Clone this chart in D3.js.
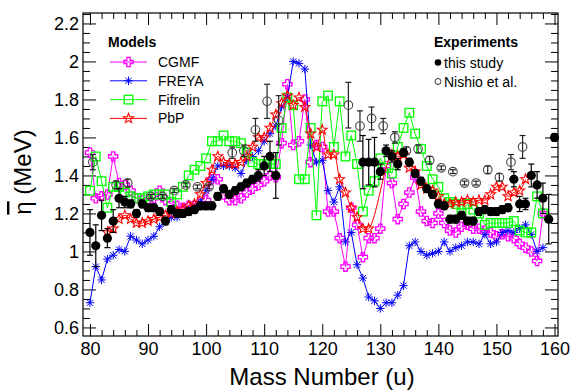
<!DOCTYPE html>
<html><head><meta charset="utf-8">
<script src="https://cdn.jsdelivr.net/npm/d3@7"></script>
<style>
html,body{margin:0;padding:0;background:#fff;}
text{font-family:"Liberation Sans",Arial,Helvetica,sans-serif;}
</style></head>
<body><svg id="c" width="570" height="390"></svg>
<script>
// ---------- data ----------
const xTickLabels = [80, 90, 100, 110, 120, 130, 140, 150, 160];
const yTickLabels = [0.6, 0.8, 1, 1.2, 1.4, 1.6, 1.8, 2, 2.2];

const cgmfMass = [80,81,82,83,84,85,86,87,88,89,90,91,92,93,94,95,96,97,98,99,100,101,102,103,104,105,106,107,108,109,110,111,112,113,114,115,116,117,118,119,120,121,122,123,124,125,126,127,128,129,130,131,132,133,134,135,136,137,138,139,140,141,142,143,144,145,146,147,148,149,150,151,152,153,154,155,156,157,158];
const cgmfValues = [1.52,1.28,1.29,1.30,1.50,1.36,1.35,1.32,1.28,1.27,1.27,1.28,1.32,1.27,1.25,1.24,1.23,1.24,1.24,1.25,1.27,1.38,1.38,1.30,1.27,1.27,1.28,1.31,1.33,1.35,1.37,1.40,1.39,1.57,1.88,1.56,1.58,1.80,1.47,1.56,1.55,1.21,1.21,1.07,0.92,1.23,1.14,0.97,1.07,1.07,1.12,1.45,1.36,1.17,1.25,1.31,1.39,1.21,1.16,1.15,1.20,1.15,1.11,1.10,1.13,1.14,1.12,1.12,1.11,1.10,1.08,1.09,1.08,1.07,1.04,1.02,1.00,0.95,1.20];

const freyaMass = [80,81,82,83,84,85,86,87,88,89,90,91,92,93,94,95,96,97,98,99,100,101,102,103,104,105,106,107,108,109,110,111,112,113,114,115,116,117,118,119,120,121,122,123,124,125,126,127,128,129,130,131,132,133,134,135,136,137,138,139,140,141,142,143,144,145,146,147,148,149,150,151,152,153,154,155,156,157,158];
const freyaValues = [0.73,0.92,0.85,0.96,0.98,1.01,1.00,1.08,1.06,1.04,1.06,1.08,1.13,1.16,1.18,1.18,1.20,1.22,1.23,1.26,1.32,1.38,1.45,1.45,1.45,1.44,1.41,1.48,1.50,1.53,1.58,1.62,1.66,1.76,1.81,2.00,1.99,1.96,1.56,1.47,1.48,1.32,1.26,1.34,1.05,1.10,0.93,0.86,0.76,0.74,0.70,0.73,0.73,0.77,0.82,1.03,1.05,1.00,0.98,0.99,1.00,1.05,1.00,1.02,1.03,1.05,1.05,1.04,1.09,1.04,1.05,1.10,1.11,1.10,1.12,1.14,1.09,1.00,1.02];

const fifrelinMass = [80,81,82,83,84,85,86,87,88,89,90,91,92,93,94,95,96,97,98,99,100,101,102,103,104,105,106,107,108,109,110,111,112,113,114,115,116,117,118,119,120,121,122,123,124,125,126,127,128,129,130,131,132,133,134,135,136,137,138,139,140,141,142,143,144,145,146,147,148,149,150,151,152,153,154,155,156,157,158];
const fifrelinValues = [1.32,1.50,1.37,1.23,1.34,1.34,1.31,1.29,1.28,1.28,1.29,1.30,1.30,1.30,1.26,1.30,1.34,1.40,1.43,1.45,1.49,1.58,1.58,1.61,1.58,1.58,1.57,1.52,1.47,1.46,1.46,1.46,1.46,1.65,1.81,1.77,1.38,1.38,1.65,1.19,1.79,1.82,1.55,1.79,1.50,1.61,1.46,1.21,1.32,1.37,1.49,1.44,1.41,1.55,1.65,1.73,1.62,1.54,1.45,1.38,1.34,1.28,1.26,1.25,1.20,1.25,1.22,1.20,1.14,1.15,1.15,1.15,1.15,1.16,1.11,1.10,1.10,1.29,1.20];

const pbpMass = [83,84,85,86,87,88,89,90,91,92,93,94,95,96,97,98,99,100,101,102,103,104,105,106,107,108,109,110,111,112,113,114,115,116,117,118,119,120,121,122,123,124,125,126,127,128,132,133,134,135,136,137,138,139,140,141,142,143,144,145,146,147,148,149,150,151,152,153,154,155];
const pbpValues = [1.10,1.12,1.17,1.19,1.17,1.15,1.15,1.16,1.17,1.18,1.19,1.20,1.21,1.22,1.24,1.25,1.30,1.36,1.43,1.50,1.47,1.46,1.46,1.47,1.50,1.55,1.60,1.60,1.65,1.72,1.78,1.82,1.77,1.81,1.76,1.62,1.55,1.64,1.51,1.51,1.38,1.31,1.23,1.18,1.12,1.12,1.51,1.50,1.51,1.44,1.42,1.35,1.33,1.32,1.29,1.25,1.25,1.26,1.26,1.27,1.26,1.27,1.27,1.30,1.34,1.34,1.29,1.31,1.32,1.38];

const studyMass = [80,81,82,83,84,85,86,87,88,89,90,91,92,93,94,95,96,97,98,99,100,101,102,103,104,105,106,107,108,109,110,111,112,127,128,129,130,131,132,133,134,135,136,137,138,139,140,141,142,143,144,145,146,147,148,149,150,151,152,153,154,155,156,157,158,159,160];
const studyValues = [1.10,1.03,1.19,1.07,1.16,1.28,1.26,1.25,1.20,1.25,1.23,1.23,1.21,1.16,1.22,1.20,1.20,1.21,1.22,1.24,1.24,1.24,1.29,1.33,1.30,1.32,1.34,1.36,1.38,1.40,1.45,1.50,1.40,1.47,1.47,1.47,1.42,1.53,1.50,1.46,1.52,1.47,1.41,1.37,1.33,1.30,1.25,1.24,1.17,1.17,1.19,1.16,1.16,1.21,1.22,1.21,1.21,1.22,1.23,1.38,1.25,1.25,1.40,1.35,1.28,1.17,1.60];
const studyErrors = [0.12,0.11,0.08,0.05,0.06,0.05,0.03,0.02,0.02,0.02,0.02,0.02,0.02,0.02,0.02,0.02,0.02,0.02,0.02,0.02,0.02,0.02,0.02,0.02,0.02,0.02,0.02,0.02,0.02,0.03,0.05,0.08,0.12,0.14,0.12,0.13,0.04,0.03,0.03,0.03,0.02,0.02,0.02,0.02,0.02,0.02,0.02,0.02,0.02,0.02,0.02,0.02,0.02,0.02,0.02,0.02,0.02,0.02,0.02,0.04,0.04,0.03,0.06,0.07,0.08,0.13,0.02];

const nishioMass = [80.5,84.5,86.5,90.5,92.5,94.5,96.5,98.5,100.5,104.5,106.5,108.5,110.5,112.5,124.5,126.5,128.5,130.5,132.5,134.5,136.5,138.5,140.5,142.5,144.5,146.5,148.5,150.5,152.5,154.5];
const nishioValues = [1.47,1.35,1.36,1.29,1.29,1.32,1.35,1.34,1.34,1.52,1.53,1.64,1.79,1.69,1.77,1.66,1.70,1.66,1.60,1.53,1.54,1.48,1.44,1.42,1.36,1.36,1.43,1.39,1.47,1.55];
const nishioErrors = [0.04,0.02,0.02,0.01,0.01,0.01,0.01,0.01,0.01,0.03,0.03,0.06,0.09,0.13,0.12,0.08,0.06,0.04,0.03,0.02,0.02,0.02,0.01,0.01,0.01,0.01,0.02,0.02,0.04,0.06];

const modelNames = ["CGMF", "FREYA", "Fifrelin", "PbP"];
const modelColors = ["#ff00ff", "#0000ff", "#00ff00", "#ff0000"];
const experimentNames = ["this study", "Nishio et al."];

// ---------- layout ----------
const L = 83, R = 558, T = 13, B = 336;
const svg = d3.select("#c");
const x = d3.scaleLinear().domain([78.8, 160.6]).range([L, R]);
const y = d3.scaleLinear().domain([0.555, 2.255]).range([B, T]);

// marker shapes
function crossPath(s, a) {
  return `M${-a},${-s}L${a},${-s}L${a},${-a}L${s},${-a}L${s},${a}L${a},${a}L${a},${s}L${-a},${s}L${-a},${a}L${-s},${a}L${-s},${-a}L${-a},${-a}Z`;
}
function starPath(ro, ri) {
  let p = "";
  for (let i = 0; i < 10; i++) {
    const r = i % 2 ? ri : ro, ang = -Math.PI / 2 + i * Math.PI / 5;
    p += (i ? "L" : "M") + (r * Math.cos(ang)).toFixed(2) + "," + (r * Math.sin(ang)).toFixed(2);
  }
  return p + "Z";
}
function asteriskPath(s) {
  const d = s * 0.75;
  return `M${-s},0L${s},0M0,${-s}L0,${s}M${-d},${-d}L${d},${d}M${-d},${d}L${d},${-d}`;
}
const markers = {
  CGMF: g => g.append("path").attr("d", crossPath(4.6, 1.7)).attr("fill", "none").attr("stroke", modelColors[0]).attr("stroke-width", 1.3),
  FREYA: g => g.append("path").attr("d", asteriskPath(4.2)).attr("fill", "none").attr("stroke", modelColors[1]).attr("stroke-width", 1),
  Fifrelin: g => g.append("rect").attr("x", -4.3).attr("y", -4.3).attr("width", 8.6).attr("height", 8.6).attr("fill", "none").attr("stroke", modelColors[2]).attr("stroke-width", 1.3),
  PbP: g => g.append("path").attr("d", starPath(5.2, 2.2)).attr("fill", "none").attr("stroke", modelColors[3]).attr("stroke-width", 1.1)
};

// ---------- axes ----------
const fontAxis = 18;
const xMinor = d3.range(80, 161, 2).filter(v => v % 10 !== 0);
const yMinor = d3.range(0.6, 2.26, 0.05).map(v => +v.toFixed(2)).filter(v => Math.abs(v * 5 - Math.round(v * 5)) > 1e-6);

function styleAxis(g) { g.select(".domain").remove(); g.selectAll("line").attr("stroke", "#000"); }

svg.append("g").attr("transform", `translate(0,${B})`)
  .call(d3.axisBottom(x).tickValues(xTickLabels).tickSize(-12).tickPadding(6).tickFormat(d3.format("d")))
  .call(styleAxis).selectAll("text").attr("font-size", fontAxis).attr("fill", "#000").attr("font-family", "Liberation Sans, Arial, sans-serif");
svg.append("g").attr("transform", `translate(0,${B})`)
  .call(d3.axisBottom(x).tickValues(xMinor).tickSize(-6).tickFormat("")).call(styleAxis);
svg.append("g").attr("transform", `translate(0,${T})`)
  .call(d3.axisTop(x).tickValues(xTickLabels).tickSize(-12).tickFormat("")).call(styleAxis);
svg.append("g").attr("transform", `translate(0,${T})`)
  .call(d3.axisTop(x).tickValues(xMinor).tickSize(-6).tickFormat("")).call(styleAxis);

svg.append("g").attr("transform", `translate(${L},0)`)
  .call(d3.axisLeft(y).tickValues(yTickLabels).tickSize(-13).tickPadding(4).tickFormat(d => String(d)))
  .call(styleAxis).selectAll("text").attr("font-size", fontAxis).attr("fill", "#000").attr("font-family", "Liberation Sans, Arial, sans-serif");
svg.append("g").attr("transform", `translate(${L},0)`)
  .call(d3.axisLeft(y).tickValues(yMinor).tickSize(-7).tickFormat("")).call(styleAxis);
svg.append("g").attr("transform", `translate(${R},0)`)
  .call(d3.axisRight(y).tickValues(yTickLabels).tickSize(-13).tickFormat("")).call(styleAxis);
svg.append("g").attr("transform", `translate(${R},0)`)
  .call(d3.axisRight(y).tickValues(yMinor).tickSize(-7).tickFormat("")).call(styleAxis);

// ---------- model series ----------
const plot = svg.append("g");
const models = [
  {name: "CGMF", mass: cgmfMass, vals: cgmfValues, curve: d3.curveLinear},
  {name: "FREYA", mass: freyaMass, vals: freyaValues, curve: d3.curveLinear},
  {name: "Fifrelin", mass: fifrelinMass, vals: fifrelinValues, curve: d3.curveLinear},
  {name: "PbP", mass: pbpMass, vals: pbpValues, curve: d3.curveCatmullRom.alpha(0.5)}
];
models.forEach((m, i) => {
  const pts = m.mass.map((a, k) => [a, m.vals[k]]);
  plot.append("path").datum(pts)
    .attr("d", d3.line().x(d => x(d[0])).y(d => y(d[1])).curve(m.curve))
    .attr("fill", "none").attr("stroke", modelColors[i]).attr("stroke-width", 1);
  const mg = plot.append("g");
  pts.forEach(d => markers[m.name](mg.append("g").attr("transform", `translate(${x(d[0])},${y(d[1])})`)));
});

// ---------- experiments ----------
function errorBars(mass, vals, errs, color) {
  const g = plot.append("g").attr("stroke", color).attr("stroke-width", 1.2);
  mass.forEach((a, k) => {
    const cx = x(a), y0 = y(vals[k] - errs[k]), y1 = y(vals[k] + errs[k]);
    g.append("line").attr("x1", cx).attr("x2", cx).attr("y1", y0).attr("y2", y1);
    g.append("line").attr("x1", cx - 3).attr("x2", cx + 3).attr("y1", y0).attr("y2", y0);
    g.append("line").attr("x1", cx - 3).attr("x2", cx + 3).attr("y1", y1).attr("y2", y1);
  });
}
errorBars(nishioMass, nishioValues, nishioErrors, "#222");
plot.append("g").selectAll("circle").data(nishioMass.map((a, k) => [a, nishioValues[k]])).join("circle")
  .attr("cx", d => x(d[0])).attr("cy", d => y(d[1])).attr("r", 4.3)
  .attr("fill", "none").attr("stroke", "#444").attr("stroke-width", 1.1);
errorBars(studyMass, studyValues, studyErrors, "#000");
plot.append("g").selectAll("circle").data(studyMass.map((a, k) => [a, studyValues[k]])).join("circle")
  .attr("cx", d => x(d[0])).attr("cy", d => y(d[1])).attr("r", 4.6).attr("fill", "#000");

// ---------- frame ----------
svg.append("rect").attr("x", L).attr("y", T).attr("width", R - L).attr("height", B - T)
  .attr("fill", "none").attr("stroke", "#000").attr("stroke-width", 1.2);

// ---------- legends ----------
svg.append("text").attr("x", 108).attr("y", 47).attr("font-size", 14).attr("font-weight", "bold").text("Models");
modelNames.forEach((n, i) => {
  const cy = 62 + i * 18.8;
  svg.append("line").attr("x1", 110).attr("x2", 147).attr("y1", cy).attr("y2", cy)
    .attr("stroke", modelColors[i]).attr("stroke-width", 1);
  markers[n](svg.append("g").attr("transform", `translate(128.5,${cy})`));
  svg.append("text").attr("x", 158).attr("y", cy + 5).attr("font-size", 14).text(n);
});
svg.append("text").attr("x", 434).attr("y", 47).attr("font-size", 14).attr("font-weight", "bold").text("Experiments");
svg.append("circle").attr("cx", 438).attr("cy", 62.5).attr("r", 3.3).attr("fill", "#000");
svg.append("text").attr("x", 444).attr("y", 67.5).attr("font-size", 14).text(experimentNames[0]);
svg.append("circle").attr("cx", 438).attr("cy", 81.5).attr("r", 3).attr("fill", "none").attr("stroke", "#333").attr("stroke-width", 1);
svg.append("text").attr("x", 444).attr("y", 86.5).attr("font-size", 14).text(experimentNames[1]);

// ---------- axis titles ----------
svg.append("text").attr("x", 322).attr("y", 385).attr("text-anchor", "middle").attr("font-size", 24).text("Mass Number (u)");
const yt = svg.append("text").attr("transform", "translate(31,172) rotate(-90)").attr("text-anchor", "middle").attr("font-size", 24);
yt.append("tspan").attr("style", "text-decoration:overline").text("η");
yt.append("tspan").text(" (MeV)");
</script></body></html>
